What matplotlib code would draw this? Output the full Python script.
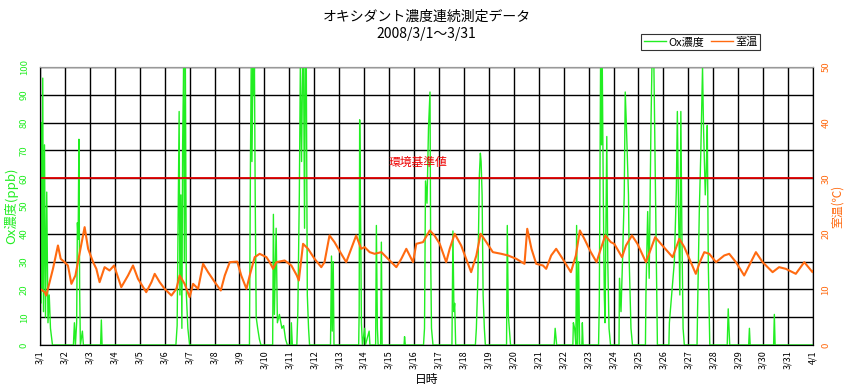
import matplotlib
matplotlib.use('Agg')
import matplotlib.pyplot as plt
from matplotlib.lines import Line2D

plt.rcParams['font.family'] = ['Noto Sans CJK JP', 'DejaVu Sans']

# ---- data (days since 3/1 00:00) ----
tick_labels = [f"3/{i}" for i in range(1, 32)] + ["4/1"]

temp_day = [0.00, 0.19, 0.25, 0.52, 0.72, 0.83, 0.99, 1.12, 1.26, 1.42, 1.52, 1.79, 1.93,
            2.13, 2.26, 2.39, 2.59, 2.79, 2.97, 3.26, 3.53, 3.73, 3.93, 4.26, 4.47, 4.60,
            4.80, 5.00, 5.27, 5.47, 5.60, 5.80, 6.00, 6.14, 6.34, 6.54, 6.74, 7.01, 7.25,
            7.41, 7.61, 7.91, 8.07, 8.28, 8.41, 8.61, 8.81, 9.08, 9.21, 9.35, 9.48, 9.81,
            10.08, 10.30, 10.38, 10.55, 10.75, 11.01, 11.28, 11.41, 11.61, 11.81, 12.08,
            12.28, 12.48, 12.68, 12.88, 13.02, 13.22, 13.42, 13.69, 14.02, 14.29, 14.49,
            14.69, 14.96, 15.09, 15.36, 15.63, 15.82, 16.03, 16.29, 16.43, 16.63, 16.89,
            17.29, 17.50, 17.67, 17.90, 18.16, 18.50, 18.77, 19.10, 19.43, 19.54, 19.71,
            19.90, 20.17, 20.30, 20.50, 20.70, 20.96, 21.29, 21.49, 21.65, 21.83, 22.09,
            22.32, 22.49, 22.67, 22.89, 23.03, 23.34, 23.50, 23.74, 23.96, 24.30, 24.50,
            24.67, 24.90, 25.37, 25.64, 25.84, 26.30, 26.46, 26.64, 26.84, 27.11, 27.44,
            27.64, 27.91, 28.24, 28.51, 28.71, 28.98, 29.38, 29.64, 29.91, 30.31, 30.65,
            30.98, 31.00]
temp_c = [10.1, 9.5, 8.9, 13.7, 17.9, 15.5, 14.9, 14.3, 11.0, 12.5, 14.9, 21.2, 17.3,
          14.9, 13.7, 11.3, 14.0, 13.4, 14.3, 10.4, 12.5, 14.3, 11.9, 9.5, 11.3, 12.8,
          11.3, 10.1, 8.9, 10.1, 12.5, 11.0, 8.6, 11.0, 10.1, 14.6, 13.1, 11.3, 9.8,
          12.5, 14.9, 15.0, 12.5, 10.1, 12.5, 15.8, 16.4, 15.8, 14.9, 13.7, 14.9, 15.2,
          14.3, 12.5, 11.6, 18.2, 17.3, 15.5, 14.0, 14.9, 19.7, 18.5, 16.4,
          14.9, 17.3, 19.7, 17.3, 17.6, 16.7, 16.4, 16.7, 15.2, 14.0, 15.5,
          17.3, 14.9, 18.2, 18.5, 20.6, 19.7, 18.2, 14.9, 17.3, 20.0, 17.9,
          13.1, 16.1, 20.0, 18.5, 16.7, 16.4, 16.1, 15.5, 14.6, 20.9, 17.3,
          14.6, 14.3, 13.7, 16.1, 17.3, 15.5, 13.1, 16.1, 20.6, 19.1, 16.7,
          14.9, 17.3, 19.7, 18.5, 18.2, 15.8, 17.9, 19.7, 18.2, 14.9, 17.3,
          19.4, 18.2, 15.8, 19.1, 17.6, 12.8, 14.9, 16.7, 16.4, 14.9, 16.1,
          16.4, 14.9, 12.5, 14.9, 16.7, 14.9, 13.1, 14.0, 13.7, 12.8, 14.9,
          13.1, 13.3]

ox_day = [0.00, 0.01, 0.03, 0.05, 0.08, 0.11, 0.14, 0.18, 0.22, 0.27, 0.32, 0.37, 0.42, 0.50,
          1.34, 1.38, 1.42, 1.47, 1.50, 1.53, 1.56, 1.59, 1.62, 1.70, 1.74,
          2.43, 2.46, 2.49,
          5.45, 5.50, 5.54, 5.58, 5.61, 5.65, 5.69, 5.72, 5.76, 5.79, 5.83, 5.87, 5.93, 6.00,
          8.40, 8.44, 8.47, 8.50, 8.54, 8.57, 8.60, 8.63, 8.67, 8.73, 8.80, 8.86,
          9.33, 9.36, 9.40, 9.47, 9.52, 9.60, 9.70, 9.77, 9.85, 9.92, 10.06, 10.08, 10.12,
          10.30, 10.34, 10.40, 10.44, 10.49, 10.53, 10.57, 10.61, 10.64, 10.68, 10.72, 10.77, 10.81,
          11.65, 11.69, 11.72, 11.76, 11.79,
          12.78, 12.80, 12.82, 12.86, 12.89, 12.93, 13.02, 13.05, 13.20, 13.23,
          13.46, 13.49, 13.53, 13.56, 13.66, 13.69, 13.72,
          14.60, 14.62, 14.65,
          15.38, 15.42, 15.46, 15.52, 15.58, 15.64, 15.67, 15.70, 15.76,
          16.52, 16.56, 16.60, 16.63, 16.67,
          17.46, 17.50, 17.56, 17.62, 17.66, 17.69, 17.73, 17.77, 17.82, 17.86,
          18.71, 18.74, 18.78, 18.82, 18.87,
          20.62, 20.66, 20.72,
          21.37, 21.39, 21.44, 21.49, 21.52, 21.56, 21.60, 21.64, 21.73, 21.75, 21.78,
          22.40, 22.43, 22.48, 22.52, 22.55, 22.59, 22.63, 22.66, 22.70, 22.73, 22.77, 22.82, 22.88,
          23.22, 23.24, 23.30, 23.36, 23.43, 23.47, 23.52, 23.56, 23.60, 23.63, 23.70, 23.76,
          24.28, 24.30, 24.37, 24.43, 24.50, 24.54, 24.58, 24.62, 24.66, 24.70, 24.76,
          25.22, 25.24, 25.44, 25.52, 25.56, 25.60, 25.66, 25.70, 25.74, 25.79, 25.84,
          26.35, 26.37, 26.44, 26.50, 26.57, 26.61, 26.68, 26.72, 26.76, 26.80, 26.86,
          27.56, 27.60, 27.66,
          28.42, 28.45, 28.48,
          29.42, 29.45, 29.48,
          31.00]
ox_ppb = [60, 100, 15, 80, 20, 96, 12, 72, 10, 55, 8, 18, 6, 0,
          0, 8, 0, 8, 44, 38, 74, 20, 0, 5, 0,
          0, 9, 0,
          0, 7, 44, 84, 18, 54, 6, 72, 100, 30, 100, 18, 6, 0,
          0, 66, 100, 66, 100, 90, 100, 54, 10, 6, 2, 0,
          0, 47, 11, 42, 8, 11, 6, 7, 2, 0, 0, 8, 0,
          0, 12, 54, 100, 66, 100, 100, 42, 100, 100, 18, 6, 0,
          0, 32, 5, 30, 0,
          0, 12, 81, 42, 8, 0, 6, 0, 5, 0,
          0, 43, 6, 0, 0, 37, 0,
          0, 3, 0,
          0, 6, 59, 51, 78, 91, 30, 6, 0,
          0, 41, 12, 15, 0,
          0, 6, 24, 61, 69, 66, 54, 18, 6, 0,
          0, 43, 11, 6, 0,
          0, 6, 0,
          0, 8, 6, 0, 43, 0, 30, 0, 0, 8, 0,
          0, 15, 100, 72, 100, 54, 18, 8, 48, 75, 30, 6, 0,
          0, 24, 12, 30, 54, 91, 78, 66, 54, 30, 6, 0,
          0, 18, 48, 24, 78, 100, 100, 100, 72, 42, 0,
          0, 8, 30, 56, 84, 54, 18, 84, 42, 6, 0,
          0, 12, 48, 69, 100, 78, 54, 63, 79, 30, 0,
          0, 13, 0,
          0, 6, 0,
          0, 11, 0,
          0]

standard_ppb = 60

# ---- figure ----
W, H = 848, 389
fig = plt.figure(figsize=(W / 100, H / 100), dpi=100)
L, R, T, B = 40, 813, 67, 345
ax = fig.add_axes([L / W, 1 - B / H, (R - L) / W, (B - T) / H])
ax2 = ax.twinx()

green = '#22ee22'
orange = '#ff6a10'

ax.set_xlim(0, 31)
ax.set_ylim(0, 100)
ax2.set_ylim(0, 50)

ax.set_xticks(range(32))
ax.set_xticklabels(tick_labels, rotation=90, fontsize=6.5)
ax.set_yticks(range(0, 101, 10))
ax.set_yticklabels([str(v) for v in range(0, 101, 10)], rotation=90, fontsize=6.8,
                   color=green, va='center')
ax2.set_yticks(range(0, 51, 10))
ax2.set_yticklabels([str(v) for v in range(0, 51, 10)], rotation=90, fontsize=6.8,
                    color=orange, va='center')
ax.tick_params(axis='x', length=0, pad=4)
ax.tick_params(axis='y', length=0, pad=8)
ax2.tick_params(axis='y', length=0, pad=6)

ax.grid(True, color='black', linewidth=1.0)
ax.set_axisbelow(True)

ax.plot(ox_day, ox_ppb, color=green, linewidth=1.0, zorder=2)
ax.axhline(standard_ppb, color='#e00000', linewidth=1.3, zorder=3)
ax.text(15.16, 65.8, '環境基準値', color='#ee0000', fontsize=8.5, ha='center', va='center')
ax2.plot(temp_day, temp_c, color=orange, linewidth=1.5)

for a in (ax, ax2):
    a.spines['top'].set_color('#999999')
    a.spines['left'].set_color('black')
    a.spines['right'].set_color('black')
    a.spines['bottom'].set_color('black')

ax.set_ylabel('Ox濃度(ppb)', color=green, fontsize=9.5, va='center', ha='center')
ax.yaxis.set_label_coords(-(L - 11) / (R - L), 0.5)
ax2.set_ylabel('室温(℃)', color=orange, fontsize=8.5, rotation=90, va='center', ha='center')
ax2.yaxis.set_label_coords(1 + (837 - R) / (R - L), 0.5)
ax.set_xlabel('日時', fontsize=8.5, va='center')
ax.xaxis.set_label_coords(0.5, -(379 - B) / (B - T))

cx = (L + R) / 2 / W
fig.text(cx, 1 - 17 / H, 'オキシダント濃度連続測定データ', ha='center', va='center', fontsize=10)
fig.text(cx, 1 - 34 / H, '2008/3/1～3/31', ha='center', va='center', fontsize=10)

handles = [Line2D([], [], color=green, linewidth=1), Line2D([], [], color=orange, linewidth=1)]
leg = fig.legend(handles, ['Ox濃度', '室温'], loc='center', bbox_to_anchor=(700.5 / W, 1 - 42 / H),
                 ncol=2, fontsize=8, frameon=True, fancybox=False, edgecolor='black',
                 handlelength=2.0, handletextpad=0.2, columnspacing=0.6, borderpad=0.25,
                 borderaxespad=0)
leg.get_frame().set_linewidth(0.8)

fig.savefig('out.png', dpi=100)
